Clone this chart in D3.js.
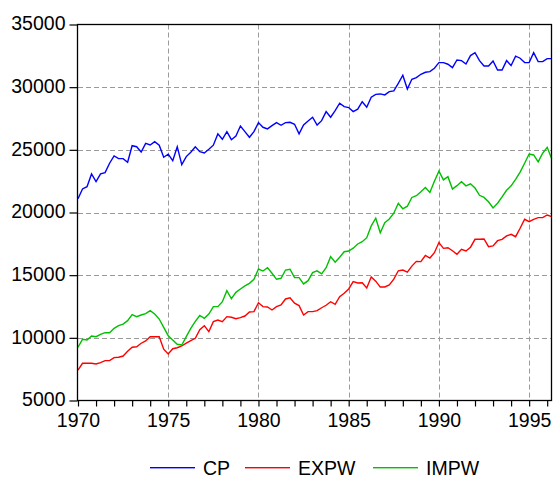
<!DOCTYPE html>
<html>
<head>
<meta charset="utf-8">
<script src="https://cdn.jsdelivr.net/npm/d3@7"></script>
<style>
  html, body { margin: 0; padding: 0; background: #fff; }
  svg { display: block; }
  text { font-family: "Liberation Sans", Arial, sans-serif; fill: #000; }
</style>
</head>
<body>
<svg id="chart" width="553" height="482"></svg>
<script>
// Quarterly data, 1970Q1 .. 1996Q2
const startYear = 1970;
const seriesNames = ["CP", "EXPW", "IMPW"];
const seriesColors = ["#0000ff", "#ff0000", "#00c000"];

const CP = [
  21100, 21880, 22060, 23080, 22460, 23080, 23180, 23930, 24510, 24300,
  24300, 24010, 25330, 25250, 24830, 25520, 25390, 25650, 25370, 24410,
  24650, 24140, 25250, 23820, 24460, 24810, 25250, 24850, 24750, 25050,
  25370, 26270, 25840, 26450, 25810, 26100, 26900, 26450, 26000, 26450,
  27170, 26800, 26670, 26930, 27170, 26960, 27170, 27200, 27040, 26270,
  26980, 27300, 27600, 26980, 27330, 28050, 27600, 28130, 28720, 28450,
  28370, 28050, 28240, 28840, 28400, 29200, 29430, 29460, 29380, 29640,
  29700, 30310, 30950, 29850, 30630, 30760, 31030, 31190, 31240, 31510,
  31960, 31960, 31830, 31560, 32170, 32120, 31850, 32520, 32750, 32120,
  31690, 31690, 32090, 31370, 31370, 32120, 31720, 32470, 32310, 31960,
  31960, 32750, 32040, 32040, 32280, 32280
];
const EXPW = [
  7430, 7970, 7970, 7970, 7910, 8020, 8180, 8180, 8420, 8450,
  8550, 8930, 9250, 9290, 9570, 9750, 10090, 10090, 10090, 9090,
  8710, 9130, 9210, 9350, 9570, 9770, 9960, 10650, 10970, 10490,
  11290, 11420, 11290, 11690, 11640, 11530, 11610, 11740, 12060, 12090,
  12800, 12490, 12460, 12220, 12490, 12620, 13100, 13200, 12760, 12570,
  11820, 12090, 12090, 12170, 12400, 12600, 12880, 12680, 13280, 13550,
  13900, 14480, 14380, 14400, 13980, 14850, 14520, 14050, 14060, 14220,
  14680, 15350, 15410, 15240, 15720, 16100, 16080, 16570, 16370, 16790,
  17600, 17140, 17190, 16950, 16670, 17070, 16930, 17230, 17860, 17860,
  17890, 17270, 17330, 17750, 17860, 18130, 18260, 18070, 18740, 19460,
  19270, 19460, 19590, 19590, 19800, 19670
];
const IMPW = [
  9250, 9880, 9830, 10150, 10090, 10280, 10410, 10410, 10760, 10970,
  11100, 11370, 11850, 11690, 11820, 11930, 12170, 11900, 11500, 10840,
  10170, 9830, 9490, 9430, 10090, 10760, 11310, 11780, 11560, 11900,
  12490, 12490, 12880, 13760, 13120, 13630, 13900, 14140, 14350, 14670,
  15490, 15330, 15600, 15150, 14670, 14750, 15410, 15470, 14800, 14800,
  14300, 14560, 15200, 15340, 15100, 15600, 16480, 16030, 16430, 16870,
  16930, 17150, 17490, 17670, 17990, 18930, 19540, 18390, 19190, 19480,
  19940, 20740, 20300, 20500, 21200, 21340, 21660, 22000, 21600, 22500,
  23300, 22600, 22860, 21870, 22140, 22450, 22130, 22290, 21950, 21370,
  21200, 20860, 20360, 20740, 21240, 21770, 22130, 22640, 23220, 23930,
  24670, 24590, 24040, 24730, 25200, 24290
];
const yTicks = [5000, 10000, 15000, 20000, 25000, 30000, 35000];
const xLabelYears = [1970, 1975, 1980, 1985, 1990, 1995];

const allSeries = [CP, EXPW, IMPW];

const svg = d3.select("#chart");
const L = 78, T = 24.5, R = 551.5, B = 400.5;
const n = CP.length;
const endYear = startYear + (n - 1) / 4;

const x = d3.scaleLinear().domain([startYear, endYear]).range([L, R + 0.2]);
const y = d3.scaleLinear().domain([5000, 35000]).range([B, T]);

// grid
const grid = svg.append("g").attr("stroke", "#9a9a9a").attr("stroke-width", 1)
  .attr("stroke-dasharray", "5,3").attr("fill", "none");
yTicks.filter(v => v > 5000 && v < 35000).forEach(v => {
  grid.append("line").attr("x1", L).attr("x2", R)
    .attr("y1", Math.round(y(v)) + 0.5).attr("y2", Math.round(y(v)) + 0.5);
});
xLabelYears.filter(v => v > startYear).forEach(v => {
  const px = Math.round(x(v)) + 0.5;
  grid.append("line").attr("x1", px).attr("x2", px).attr("y1", T).attr("y2", B);
});

// series lines
const dates = d3.range(n).map(i => startYear + i / 4);
const line = d3.line().x((d, i) => x(dates[i])).y(d => y(d));
allSeries.forEach((s, k) => {
  svg.append("path").datum(s).attr("d", line)
    .attr("fill", "none").attr("stroke", seriesColors[k])
    .attr("stroke-width", 1.4).attr("stroke-linejoin", "miter");
});

// frame
svg.append("rect").attr("x", L - 0.5).attr("y", T).attr("width", R - L + 0.5).attr("height", B - T)
  .attr("fill", "none").attr("stroke", "#000").attr("stroke-width", 1.3);

// y axis
const yAxis = d3.axisLeft(y).tickValues(yTicks).tickSize(8).tickPadding(4)
  .tickFormat(d3.format("d"));
const gy = svg.append("g").attr("transform", `translate(${L - 0.5},0)`).call(yAxis);
gy.select(".domain").remove();
gy.selectAll("line").attr("stroke", "#000").attr("stroke-width", 1.2);
gy.selectAll("text").attr("font-size", "19.5px").attr("dy", "0.27em")
  .style("font-family", '"Liberation Sans", Arial, sans-serif');

// x axis
const yearTicks = d3.range(startYear, Math.floor(endYear) + 1);
const xAxis = d3.axisBottom(x).tickValues(yearTicks).tickSize(6).tickPadding(7)
  .tickFormat(d => xLabelYears.includes(d) ? String(d) : "");
const gx = svg.append("g").attr("transform", `translate(0,${B})`).call(xAxis);
gx.select(".domain").remove();
gx.selectAll("line").attr("stroke", "#000").attr("stroke-width", 1.2);
gx.selectAll("text").attr("font-size", "19.5px")
  .style("font-family", '"Liberation Sans", Arial, sans-serif');

// legend
const legendX = [150, 245, 373];
const legendY = 467.5;
const lg = svg.append("g");
seriesNames.forEach((name, k) => {
  lg.append("rect").attr("x", legendX[k]).attr("y", legendY - 0.5)
    .attr("width", 45).attr("height", 1.4)
    .style("fill", seriesColors[k]);
  lg.append("text").attr("x", legendX[k] + 53).attr("y", legendY + 7)
    .attr("font-size", "19.5px").text(name);
});
</script>
</body>
</html>
